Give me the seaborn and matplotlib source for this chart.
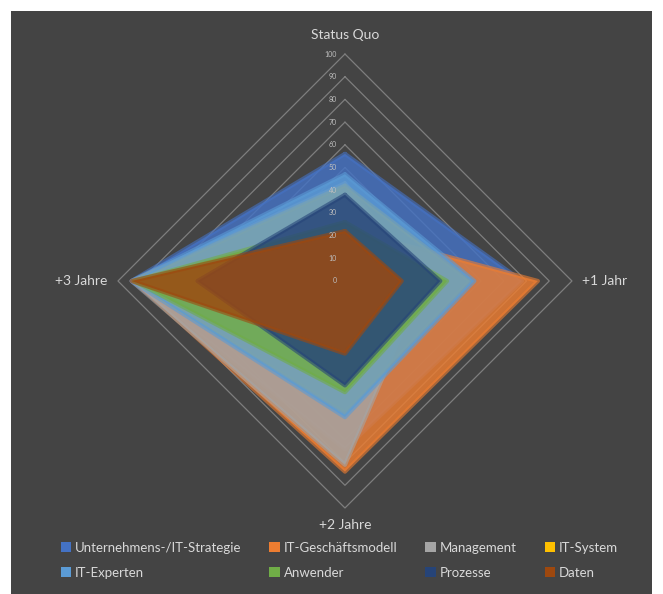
import numpy as np
import matplotlib.pyplot as plt
import seaborn as sns
from matplotlib.patches import Patch, Rectangle

# Radar chart data
categories = ["Status Quo", "+1 Jahr", "+2 Jahre", "+3 Jahre"]
series_names = ["Unternehmens-/IT-Strategie", "IT-Geschäftsmodell", "Management", "IT-System",
                "IT-Experten", "Anwender", "Prozesse", "Daten"]
unternehmens = [56, 78, 74, 94]
geschaeftsmodell = [23, 85, 84, 93]
management = [43, 35, 81, 94]
it_system = [42, 55, 58, 93]
it_experten = [47, 57, 60, 94]
anwender = [26, 45, 49, 93]
prozesse = [38, 42, 46, 65]
daten = [22, 25, 32, 94]
levels = list(range(0, 101, 10))

series_values = [unternehmens, geschaeftsmodell, management, it_system,
                 it_experten, anwender, prozesse, daten]
colors = ["#4472C4", "#ED7D31", "#A5A5A5", "#FFC000", "#5B9BD5", "#70AD47", "#264478", "#9E480E"]

sns.set_style("dark")
plt.rcParams['font.family'] = ['Lato', 'DejaVu Sans']

bg = "#444444"
angles = np.deg2rad(np.arange(len(categories)) * 360 / len(categories))


def to_xy(vals):
    v = np.asarray(vals, dtype=float)
    x = np.append(v * np.sin(angles), v[0] * np.sin(angles[0]))
    y = np.append(v * np.cos(angles), v[0] * np.cos(angles[0]))
    return x, y


fig = plt.figure(figsize=(6.63, 5.94), dpi=100, facecolor="white")
fig.patches.append(Rectangle((0.017, 0.0), 0.966, 0.981, transform=fig.transFigure,
                             facecolor=bg, edgecolor="none", zorder=-10))

ax = fig.add_axes([0.1437, 0.1066, 0.7532, 0.8407])
ax.set_facecolor("none")
ax.set_xlim(-110, 110)
ax.set_ylim(-110, 110)
ax.axis("off")

# diamond grid
for lvl in levels[1:]:
    gx, gy = to_xy([lvl] * len(categories))
    ax.plot(gx, gy, color="#7e7e7e", lw=0.9, zorder=1)

# series, back to front
for vals, col in zip(series_values, colors):
    px, py = to_xy(vals)
    ax.fill(px, py, color=col, alpha=0.82, lw=0, zorder=2)
    ax.plot(px, py, color=col, alpha=0.6, lw=3, zorder=2)

# value labels along the top axis
for lvl in levels:
    ax.text(-3.5, lvl, str(lvl), ha="right", va="center", fontsize=5, color="#bfbfbf", zorder=5)

# category labels
ax.text(0, 108.5, categories[0], ha="center", va="center", fontsize=10, color="#d9d9d9")
ax.text(104.5, 0, categories[1], ha="left", va="center", fontsize=10, color="#d9d9d9")
ax.text(0, -107.5, categories[2], ha="center", va="center", fontsize=10, color="#d9d9d9")
ax.text(-104.5, 0, categories[3], ha="right", va="center", fontsize=10, color="#d9d9d9")

# legend laid out in rows like the original
order = [0, 4, 1, 5, 2, 6, 3, 7]
handles = [Patch(facecolor=colors[i], edgecolor="none") for i in order]
labels = [series_names[i] for i in order]
fig.legend(handles, labels, loc="lower center", bbox_to_anchor=(0.512, 0.006), ncol=4,
           frameon=False, fontsize=9.5, labelcolor="#d9d9d9", handlelength=0.8,
           handleheight=0.8, handletextpad=0.3, columnspacing=2.1, labelspacing=0.95)

fig.savefig("out.png", dpi=100, facecolor="white")
